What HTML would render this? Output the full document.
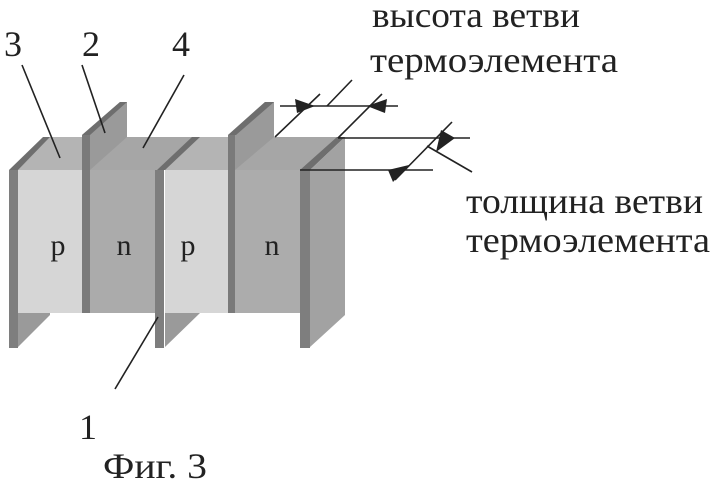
<!DOCTYPE html>
<html><head><meta charset="utf-8"><style>
html,body{margin:0;padding:0;background:#fff;}
svg{display:block;}
text{font-family:"Liberation Serif",serif;fill:#222;}
</style></head><body>
<svg width="716" height="488" viewBox="0 0 716 488" xmlns="http://www.w3.org/2000/svg">
<polygon points="18,170 50,137 340,137 305,170" fill="#a6a6a6"/>
<polygon points="18,170 50,137 120,137 88,170" fill="#b4b4b4"/>
<polygon points="165,170 198,137 268,137 233,170" fill="#b4b4b4"/>
<polygon points="82,135 120,102 127,102 127,137 90,170 82,170" fill="#9a9a9a"/>
<polygon points="82,135 120,102 127,102 90,135" fill="#6e6e6e"/>
<polygon points="228,135 265,102 274,102 274,137 235,170 228,170" fill="#9a9a9a"/>
<polygon points="228,135 265,102 274,102 236,135" fill="#6e6e6e"/>
<rect x="18" y="170" width="64" height="143" fill="#d6d6d6"/>
<rect x="90" y="170" width="67" height="143" fill="#ababab"/>
<rect x="165" y="170" width="63" height="143" fill="#d6d6d6"/>
<rect x="235" y="170" width="65" height="143" fill="#acacac"/>
<rect x="82" y="135" width="8" height="178" fill="#7a7a7a"/>
<rect x="228" y="135" width="7" height="178" fill="#7a7a7a"/>
<polygon points="18,313 50,313 50,315 18,347" fill="#9a9a9a"/>
<polygon points="9,170 43,137 50,137 18,170" fill="#6e6e6e"/>
<rect x="9" y="170" width="9" height="178" fill="#7e7e7e"/>
<polygon points="157,170 192,137 200,137 165,170" fill="#6e6e6e"/>
<polygon points="165,313 200,313 165,347" fill="#9a9a9a"/>
<rect x="155" y="170" width="9" height="178" fill="#7e7e7e"/>
<polygon points="300,170 337,137 345,137 310,170" fill="#6e6e6e"/>
<polygon points="310,170 345,137 345,315 310,347" fill="#a2a2a2"/>
<rect x="300" y="170" width="10" height="178" fill="#7e7e7e"/>
<g font-size="30">
<text x="58" y="255" text-anchor="middle">p</text>
<text x="124" y="255" text-anchor="middle">n</text>
<text x="188" y="255" text-anchor="middle">p</text>
<text x="272" y="255" text-anchor="middle">n</text>
</g>
<g stroke="#222" stroke-width="1.6" fill="none">
<line x1="22" y1="65" x2="60" y2="158"/>
<line x1="82" y1="65" x2="105" y2="133"/>
<line x1="184" y1="75" x2="143" y2="148"/>
<line x1="158" y1="317" x2="115" y2="389"/>
<line x1="280" y1="106" x2="398" y2="106"/>
<line x1="275" y1="137" x2="320" y2="94"/>
<line x1="338" y1="138" x2="382" y2="94"/>
<line x1="327" y1="106" x2="352" y2="80"/>
<line x1="338" y1="138" x2="470" y2="138"/>
<line x1="300" y1="170" x2="433" y2="170"/>
<line x1="395" y1="180" x2="452" y2="122"/>
<line x1="427" y1="146" x2="472" y2="172"/>
</g>
<g fill="#222">
<polygon points="315,106 295,99 297,113"/>
<polygon points="367,106 387,99 385,113"/>
<polygon points="436,152 441,130 455,138"/>
<polygon points="409,165 393,182 388,170"/>
</g>
<g font-size="36">
<text x="4" y="56">3</text>
<text x="82" y="56">2</text>
<text x="172" y="56">4</text>
<text x="79" y="439">1</text>
<text x="103" y="478" textLength="104" lengthAdjust="spacingAndGlyphs">Фиг. 3</text>
<text x="372" y="27" textLength="208" lengthAdjust="spacingAndGlyphs">высота ветви</text>
<text x="370" y="72" textLength="248" lengthAdjust="spacingAndGlyphs">термоэлемента</text>
<text x="466" y="213" textLength="237" lengthAdjust="spacingAndGlyphs">толщина ветви</text>
<text x="466" y="252" textLength="244" lengthAdjust="spacingAndGlyphs">термоэлемента</text>
</g>
</svg>
</body></html>
